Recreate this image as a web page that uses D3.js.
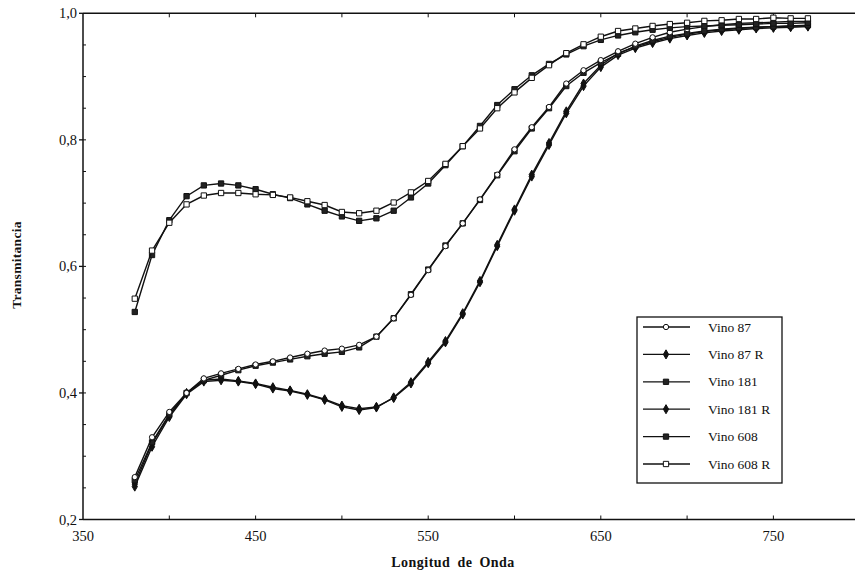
<!DOCTYPE html>
<html>
<head>
<meta charset="utf-8">
<script src="https://cdn.jsdelivr.net/npm/d3@7"></script>
<style>
  body { margin: 0; background: #fff; }
  text { font-family: "Liberation Serif", "DejaVu Serif", serif; fill: #111; }
</style>
</head>
<body>
<div id="plot"></div>
<script>
// wavelengths (nm) of the measured points
const wavelengths = [380, 390, 400, 410, 420, 430, 440, 450, 460, 470,
  480, 490, 500, 510, 520, 530, 540, 550, 560, 570,
  580, 590, 600, 610, 620, 630, 640, 650, 660, 670,
  680, 690, 700, 710, 720, 730, 740, 750, 760, 770];

const seriesNames = ["Vino 87", "Vino 87 R", "Vino 181", "Vino 181 R", "Vino 608", "Vino 608 R"];

const vino87 = [0.267, 0.330, 0.370, 0.400, 0.423, 0.431, 0.438, 0.445, 0.450, 0.456,
  0.462, 0.467, 0.470, 0.476, 0.489, 0.518, 0.555, 0.594, 0.632, 0.668,
  0.706, 0.745, 0.785, 0.820, 0.852, 0.889, 0.910, 0.926, 0.940, 0.952,
  0.962, 0.970, 0.975, 0.979, 0.982, 0.984, 0.985, 0.986, 0.987, 0.987];
const vino87R = [0.252, 0.315, 0.362, 0.398, 0.418, 0.420, 0.418, 0.414, 0.407, 0.403,
  0.397, 0.389, 0.378, 0.373, 0.377, 0.393, 0.417, 0.449, 0.482, 0.526,
  0.577, 0.634, 0.690, 0.745, 0.795, 0.845, 0.889, 0.918, 0.937, 0.947,
  0.955, 0.962, 0.967, 0.971, 0.974, 0.976, 0.978, 0.979, 0.980, 0.980];
const vino181 = [0.262, 0.322, 0.366, 0.400, 0.420, 0.428, 0.436, 0.443, 0.448, 0.453,
  0.458, 0.462, 0.465, 0.472, 0.489, 0.518, 0.556, 0.595, 0.633, 0.668,
  0.705, 0.744, 0.782, 0.818, 0.850, 0.885, 0.906, 0.922, 0.936, 0.948,
  0.957, 0.964, 0.968, 0.972, 0.975, 0.977, 0.978, 0.979, 0.980, 0.981];
const vino181R = [0.256, 0.320, 0.365, 0.400, 0.420, 0.422, 0.419, 0.415, 0.409, 0.404,
  0.398, 0.390, 0.380, 0.375, 0.378, 0.392, 0.415, 0.447, 0.480, 0.524,
  0.575, 0.632, 0.688, 0.742, 0.792, 0.842, 0.885, 0.915, 0.934, 0.945,
  0.953, 0.960, 0.965, 0.969, 0.972, 0.974, 0.976, 0.977, 0.978, 0.979];
const vino608 = [0.528, 0.618, 0.673, 0.711, 0.728, 0.731, 0.728, 0.722, 0.714, 0.708,
  0.698, 0.688, 0.679, 0.672, 0.676, 0.688, 0.709, 0.731, 0.760, 0.790,
  0.822, 0.855, 0.880, 0.902, 0.920, 0.935, 0.948, 0.958, 0.965, 0.970,
  0.974, 0.977, 0.979, 0.980, 0.981, 0.982, 0.983, 0.984, 0.984, 0.985];
const vino608R = [0.549, 0.625, 0.669, 0.698, 0.712, 0.716, 0.716, 0.714, 0.713, 0.709,
  0.703, 0.697, 0.686, 0.684, 0.688, 0.701, 0.717, 0.735, 0.762, 0.790,
  0.818, 0.850, 0.875, 0.898, 0.918, 0.937, 0.951, 0.963, 0.972, 0.976,
  0.980, 0.983, 0.985, 0.988, 0.989, 0.991, 0.991, 0.993, 0.992, 0.992];

const xTicks = [350, 450, 550, 650, 750];
const yTicks = [0.2, 0.4, 0.6, 0.8, 1.0];

const width = 855, height = 575;

const svg = d3.select("#plot")
  .append("svg")
    .attr("width", width)
    .attr("height", height);

// scales (plot frame continues past the right edge of the picture)
const x = d3.scaleLinear().domain([350, 850]).range([83, 946]);
const y = d3.scaleLinear().domain([0.2, 1.0]).range([519.5, 13.3]);

const comma = d3.formatLocale({decimal: ",", thousands: ".", grouping: [3], currency: ["", ""]}).format(".1f");

// frame: left, bottom and top lines
svg.append("line").attr("x1", x(350)).attr("x2", x(350)).attr("y1", y(1.0)).attr("y2", y(0.2))
  .attr("stroke", "#111").attr("stroke-width", 1.5);
svg.append("line").attr("x1", x(350)).attr("x2", width).attr("y1", y(0.2)).attr("y2", y(0.2))
  .attr("stroke", "#111").attr("stroke-width", 1.5);
svg.append("line").attr("x1", x(350)).attr("x2", width).attr("y1", y(1.0)).attr("y2", y(1.0))
  .attr("stroke", "#111").attr("stroke-width", 1.5);

// minor ticks
const minorX = d3.range(400, 851, 50);
const minorY = d3.range(0.25, 1.0, 0.05);
svg.append("g").selectAll("line").data(minorX).join("line")
  .attr("x1", d => x(d)).attr("x2", d => x(d))
  .attr("y1", y(0.2)).attr("y2", y(0.2) - 4)
  .attr("stroke", "#111");
svg.append("g").selectAll("line").data(minorX).join("line")
  .attr("x1", d => x(d)).attr("x2", d => x(d))
  .attr("y1", y(1.0)).attr("y2", y(1.0) + 4)
  .attr("stroke", "#111");
svg.append("g").selectAll("line").data(minorY).join("line")
  .attr("x1", x(350)).attr("x2", x(350) + 3)
  .attr("y1", d => y(d)).attr("y2", d => y(d))
  .attr("stroke", "#111");
svg.append("g").selectAll("line").data(yTicks).join("line")
  .attr("x1", x(350) - 4).attr("x2", x(350))
  .attr("y1", d => y(d)).attr("y2", d => y(d))
  .attr("stroke", "#111").attr("stroke-width", 1.3);

// tick labels
svg.append("g").selectAll("text").data(xTicks).join("text")
  .attr("x", d => x(d))
  .attr("y", 541)
  .attr("text-anchor", "middle")
  .style("font-size", "14.5px")
  .text(d => d);
svg.append("g").selectAll("text").data(yTicks).join("text")
  .attr("x", 77)
  .attr("y", d => y(d) + 5)
  .attr("text-anchor", "end")
  .style("font-size", "14.5px")
  .text(d => comma(d));

// axis titles
svg.append("text")
  .attr("x", 453).attr("y", 567)
  .attr("text-anchor", "middle")
  .style("font-size", "14px").style("font-weight", "bold")
  .style("letter-spacing", "0.5px").style("word-spacing", "3px")
  .text("Longitud de Onda");
svg.append("text")
  .attr("transform", "translate(21,265) rotate(-90)")
  .attr("text-anchor", "middle")
  .style("font-size", "13.5px").style("font-weight", "bold")
  .style("letter-spacing", "0.3px")
  .text("Transmitancia");

// series, drawn with their markers
const allSeries = [vino87, vino87R, vino181, vino181R, vino608, vino608R];
const markers = [
  {type: d3.symbolCircle, size: 22, fill: "#fff"},
  {type: d3.symbolDiamond, size: 24, fill: "#111"},
  {type: d3.symbolSquare, size: 28, fill: "#222"},
  {type: d3.symbolDiamond, size: 24, fill: "#111"},
  {type: d3.symbolSquare, size: 28, fill: "#222"},
  {type: d3.symbolSquare, size: 28, fill: "#fff"}
];

const line = d3.line()
  .x(d => x(d[0]))
  .y(d => y(d[1]));

// draw in an order that leaves open markers visible on top
const drawOrder = [3, 1, 2, 0, 4, 5];
drawOrder.forEach(function(k) {
  const pts = wavelengths.map((w, i) => [w, allSeries[k][i]]);
  const g = svg.append("g");
  g.append("path")
    .datum(pts)
    .attr("d", line)
    .attr("fill", "none")
    .attr("stroke", "#111")
    .attr("stroke-width", 1.4);
  g.selectAll("path.m").data(pts).join("path")
    .attr("class", "m")
    .attr("transform", d => `translate(${x(d[0])},${y(d[1])})`)
    .attr("d", d3.symbol().type(markers[k].type).size(markers[k].size))
    .attr("fill", markers[k].fill)
    .attr("stroke", "#111")
    .attr("stroke-width", 1);
});

// legend
const legend = svg.append("g");
legend.append("rect")
  .attr("x", 637).attr("y", 317)
  .attr("width", 145).attr("height", 166)
  .attr("fill", "#fff")
  .attr("stroke", "#111")
  .attr("stroke-width", 1.3);
seriesNames.forEach(function(name, k) {
  const ly = 327 + k * 27.4;
  legend.append("line")
    .attr("x1", 643).attr("x2", 690)
    .attr("y1", ly).attr("y2", ly)
    .attr("stroke", "#111").attr("stroke-width", 1.3);
  legend.append("path")
    .attr("transform", `translate(666,${ly})`)
    .attr("d", d3.symbol().type(markers[k].type).size(markers[k].size))
    .attr("fill", markers[k].fill)
    .attr("stroke", "#111");
  legend.append("text")
    .attr("x", 708).attr("y", ly + 4.5)
    .style("font-size", "13.5px")
    .text(name);
});
</script>
</body>
</html>
